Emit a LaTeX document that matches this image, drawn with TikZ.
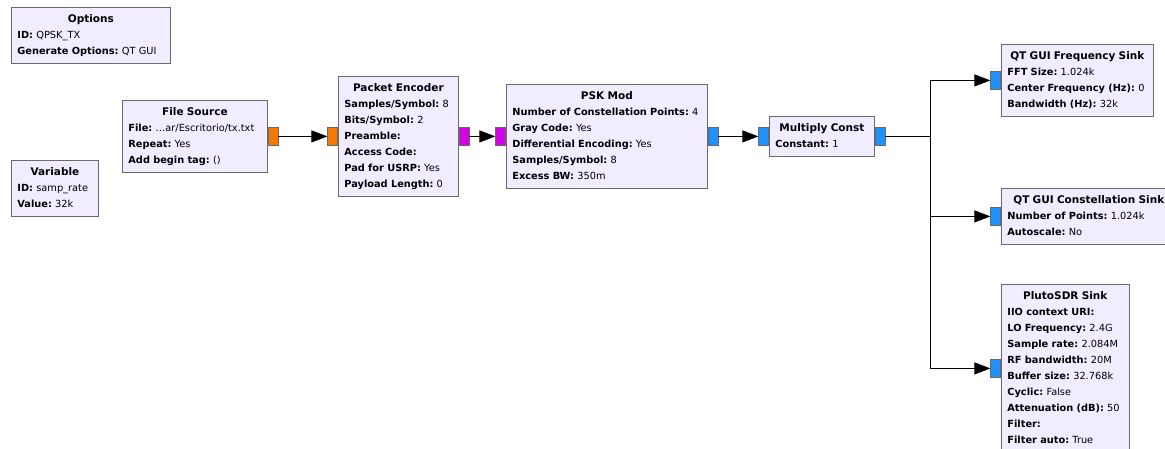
\documentclass[tikz,border=0pt]{standalone}
\usepackage{fontspec}
\setmainfont{DejaVu Sans}
\usepackage{tikz}
\usetikzlibrary{arrows.meta, positioning, calc}
\setlength{\parindent}{0pt}
\frenchspacing

\definecolor{blockfill}{HTML}{F1ECFF}
\definecolor{blockdraw}{HTML}{6A6A6A}
\definecolor{portbyte}{HTML}{F57900}
\definecolor{portpdu}{HTML}{D400E6}
\definecolor{portcplx}{HTML}{1E90FF}

\newcommand{\blkname}[1]{{\centering\strut\fontsize{10.5}{16}\selectfont\textbf{#1}\par}}
\newcommand{\kv}[2]{\mbox{\textbf{#1:} #2}}

\begin{document}
\begin{tikzpicture}[x=1pt, y=-1pt, >={Triangle[length=16pt, width=12pt]},
    block/.style={draw=blockdraw, fill=blockfill, line width=0.8pt,
      anchor=north west, text width=#1, inner xsep=6pt, inner ysep=4pt,
      align=left, font=\fontsize{9.8}{16}\selectfont,
      execute at end node=\strut},
    port/.style={draw=blockdraw, line width=0.6pt, fill=#1,
      minimum width=10pt, minimum height=18pt, inner sep=0pt},
    link/.style={->, draw=black, line width=0.8pt}]
  % Canvas
  \fill[white] (0,0) rectangle (1165,448);
  \useasboundingbox (0,0) rectangle (1165,448);

  % Settings blocks
  \node[block=147] (opts) at (11,7) {\blkname{Options}
    \kv{ID}{QPSK\_TX}\\
    \kv{Generate Options}{QT GUI}};
  \node[block=75] (var) at (11,160) {\blkname{Variable}
    \kv{ID}{samp\_rate}\\
    \kv{Value}{32k}};

  % Transmit chain
  \node[block=133] (fsrc) at (122,100) {\blkname{File Source}
    \kv{File}{…ar/Escritorio/tx.txt}\\
    \kv{Repeat}{Yes}\\
    \kv{Add begin tag}{()}};
  \node[block=108] (penc) at (338,76) {\blkname{Packet Encoder}
    \kv{Samples/Symbol}{8}\\
    \kv{Bits/Symbol}{2}\\
    \kv{Preamble}{}\\
    \kv{Access Code}{}\\
    \kv{Pad for USRP}{Yes}\\
    \kv{Payload Length}{0}};
  \node[block=189] (psk) at (506,84) {\blkname{PSK Mod}
    \kv{Number of Constellation Points}{4}\\
    \kv{Gray Code}{Yes}\\
    \kv{Differential Encoding}{Yes}\\
    \kv{Samples/Symbol}{8}\\
    \kv{Excess BW}{350m}};
  \node[block=93] (mulc) at (769,116) {\blkname{Multiply Const}
    \kv{Constant}{1}};

  % Sinks
  \node[block=140] (fsink) at (1001,44) {\blkname{QT GUI Frequency Sink}
    \kv{FFT Size}{1.024k}\\
    \kv{Center Frequency (Hz)}{0}\\
    \kv{Bandwidth (Hz)}{32k}};
  \node[block=163] (csink) at (1001,188) {\blkname{QT GUI Constellation Sink}
    \kv{Number of Points}{1.024k}\\
    \kv{Autoscale}{No}};
  \node[block=116] (pluto) at (1001,284) {\blkname{PlutoSDR Sink}
    \kv{IIO context URI}{}\\
    \kv{LO Frequency}{2.4G}\\
    \kv{Sample rate}{2.084M}\\
    \kv{RF bandwidth}{20M}\\
    \kv{Buffer size}{32.768k}\\
    \kv{Cyclic}{False}\\
    \kv{Attenuation (dB)}{50}\\
    \kv{Filter}{}\\
    \kv{Filter auto}{True}};

  % Ports
  \node[port=portbyte, anchor=west] (fsrco) at (fsrc.east) {};
  \node[port=portbyte, anchor=east] (penci) at (penc.west) {};
  \node[port=portpdu, anchor=west] (penco) at (penc.east) {};
  \node[port=portpdu, anchor=east] (pski) at (psk.west) {};
  \node[port=portcplx, anchor=west] (psko) at (psk.east) {};
  \node[port=portcplx, anchor=east] (mulci) at (mulc.west) {};
  \node[port=portcplx, anchor=west] (mulco) at (mulc.east) {};
  \node[port=portcplx, anchor=east] (fsinki) at (fsink.west) {};
  \node[port=portcplx, anchor=east] (csinki) at (csink.west) {};
  \node[port=portcplx, anchor=east] (plutoi) at (pluto.west) {};

  % Connections
  \draw[link] (fsrco) -- (penci);
  \draw[link] (penco) -- (pski);
  \draw[link] (psko) -- (mulci);
  \coordinate (split) at ($(mulco.east)+(45,0)$);
  \draw[link] (mulco.east) -- (split) |- (fsinki.west);
  \draw[link] (split) |- (csinki.west);
  \draw[link] (split) |- (plutoi.west);
\end{tikzpicture}
\end{document}
